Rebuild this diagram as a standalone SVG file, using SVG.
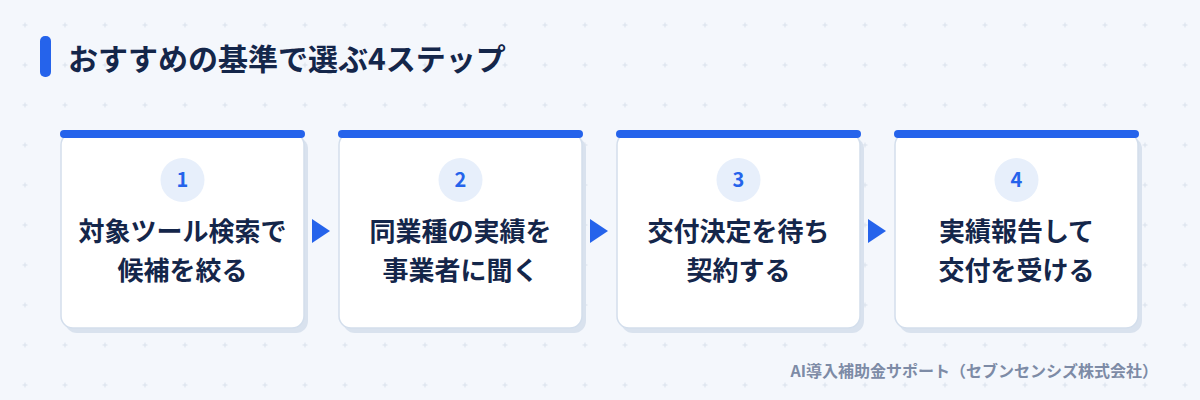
<svg xmlns="http://www.w3.org/2000/svg" width="1200" height="400" viewBox="0 0 1200 400">
<defs>
<pattern id="grid" x="0" y="0" width="40" height="40" patternUnits="userSpaceOnUse">
<path d="M22.5 25h5M25 22.5v5" stroke="#d9e1ec" stroke-width="1"/>
</pattern>
</defs>
<style>
text{font-family:"Noto Sans CJK JP","Noto Sans",sans-serif;font-weight:700}
.title{font-size:30px;fill:#14264a}
.shadow{fill:#d9e2ee}
.card{fill:#ffffff;stroke:#d3deec;stroke-width:1.5}
.bar{fill:#2563eb}
.badge{fill:#e7effb}
.num{font-size:20px;fill:#2563eb;text-anchor:middle}
.label{font-size:26px;fill:#14264a;text-anchor:middle}
.foot{font-size:16px;fill:#7d8ba6;text-anchor:end}
.conn{fill:#2563eb}
</style>
<rect width="1200" height="400" fill="#f4f7fc"/>
<rect width="1200" height="400" fill="url(#grid)"/>
<g id="title">
<rect x="40" y="36" width="11" height="41" rx="5" fill="#2563eb"/>
<text class="title" x="68" y="70">おすすめの基準で選ぶ4ステップ</text>
</g>
<g id="step1">
<rect class="shadow" x="65" y="137" width="243" height="196" rx="12"/>
<rect class="card" x="61" y="133" width="243" height="195" rx="12"/>
<rect class="bar" x="60" y="130" width="245" height="8" rx="4"/>
<circle class="badge" cx="182.5" cy="180" r="22"/>
<text class="num" x="182.5" y="187">1</text>
<text class="label" x="182.5" y="241">対象ツール検索で</text>
<text class="label" x="182.5" y="280">候補を絞る</text>
</g>
<g id="step2">
<rect class="shadow" x="343" y="137" width="243" height="196" rx="12"/>
<rect class="card" x="339" y="133" width="243" height="195" rx="12"/>
<rect class="bar" x="338" y="130" width="245" height="8" rx="4"/>
<circle class="badge" cx="460.5" cy="180" r="22"/>
<text class="num" x="460.5" y="187">2</text>
<text class="label" x="460.5" y="241">同業種の実績を</text>
<text class="label" x="460.5" y="280">事業者に聞く</text>
</g>
<g id="step3">
<rect class="shadow" x="621" y="137" width="243" height="196" rx="12"/>
<rect class="card" x="617" y="133" width="243" height="195" rx="12"/>
<rect class="bar" x="616" y="130" width="245" height="8" rx="4"/>
<circle class="badge" cx="738.5" cy="180" r="22"/>
<text class="num" x="738.5" y="187">3</text>
<text class="label" x="738.5" y="241">交付決定を待ち</text>
<text class="label" x="738.5" y="280">契約する</text>
</g>
<g id="step4">
<rect class="shadow" x="899" y="137" width="243" height="196" rx="12"/>
<rect class="card" x="895" y="133" width="243" height="195" rx="12"/>
<rect class="bar" x="894" y="130" width="245" height="8" rx="4"/>
<circle class="badge" cx="1016.5" cy="180" r="22"/>
<text class="num" x="1016.5" y="187">4</text>
<text class="label" x="1016.5" y="241">実績報告して</text>
<text class="label" x="1016.5" y="280">交付を受ける</text>
</g>
<g id="connectors">
<path class="conn" d="M312 219L330 231L312 243Z"/>
<path class="conn" d="M590 219L608 231L590 243Z"/>
<path class="conn" d="M868 219L886 231L868 243Z"/>
</g>
<text class="foot" x="1158" y="377">AI導入補助金サポート（セブンセンシズ株式会社）</text>
</svg>
